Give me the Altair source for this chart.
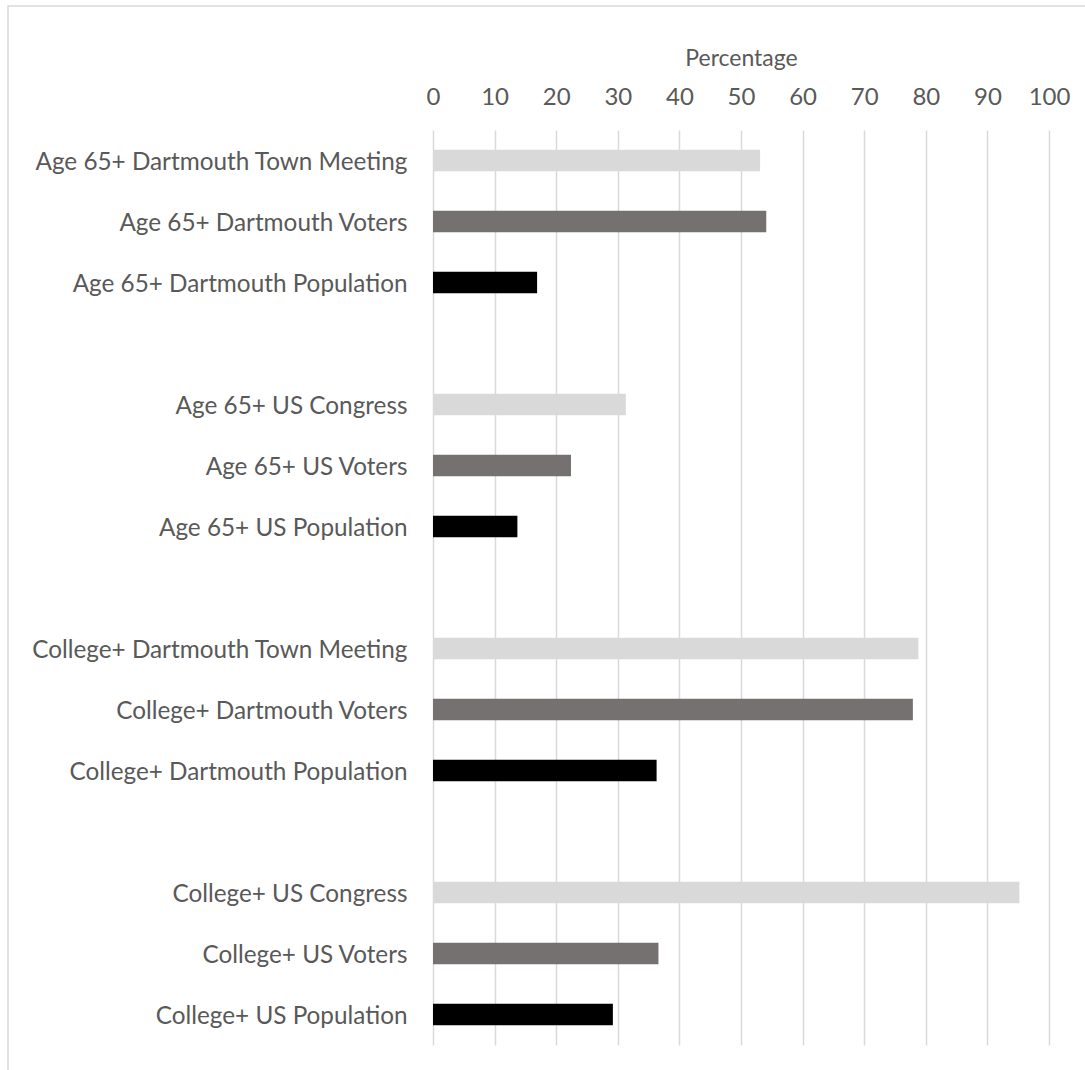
import altair as alt
import pandas as pd

categories = [
    "Age 65+ Dartmouth Town Meeting",
    "Age 65+ Dartmouth Voters",
    "Age 65+ Dartmouth Population",
    "Age 65+ US Congress",
    "Age 65+ US Voters",
    "Age 65+ US Population",
    "College+ Dartmouth Town Meeting",
    "College+ Dartmouth Voters",
    "College+ Dartmouth Population",
    "College+ US Congress",
    "College+ US Voters",
    "College+ US Population",
]
values = [53.1, 54.1, 16.9, 31.3, 22.4, 13.7, 78.8, 77.9, 36.3, 95.2, 36.6, 29.2]
kinds = ["Body", "Voters", "Population"] * 4

# display order (blank slots separate the four groups)
order = (categories[0:3] + [" "] + categories[3:6] + ["  "]
         + categories[6:9] + ["   "] + categories[9:12])

x_ticks = [0, 10, 20, 30, 40, 50, 60, 70, 80, 90, 100]

df = pd.DataFrame({"category": categories, "value": values, "kind": kinds})

FONT = "Lato"
TEXT = "#595959"

bars = alt.Chart(df).mark_bar().encode(
    x=alt.X(
        "value:Q",
        scale=alt.Scale(domain=[0, 100], nice=False),
        axis=alt.Axis(
            orient="top",
            title="Percentage",
            values=x_ticks,
            grid=True,
            gridColor="#d9d9d9",
            gridWidth=1.5,
            domain=False,
            ticks=False,
            labelFlush=False,
            labelPadding=21,
            titlePadding=15,
            labelFont=FONT,
            titleFont=FONT,
            labelFontSize=24,
            titleFontSize=23,
            titleFontWeight="normal",
            labelColor=TEXT,
            titleColor=TEXT,
        ),
    ),
    y=alt.Y(
        "category:N",
        sort=order,
        scale=alt.Scale(domain=order, paddingInner=0.645, paddingOuter=0.3225),
        axis=alt.Axis(
            title=None,
            domain=False,
            ticks=False,
            grid=False,
            labelPadding=26,
            labelOffset=2,
            labelFont=FONT,
            labelFontSize=24.3,
            labelColor=TEXT,
            labelLimit=0,
        ),
    ),
    color=alt.Color(
        "kind:N",
        scale=alt.Scale(domain=["Body", "Voters", "Population"],
                        range=["#d9d9d9", "#767171", "#000000"]),
        legend=None,
    ),
)

frame = alt.Chart(pd.DataFrame({"k": [0]})).mark_rect(
    fill="transparent", stroke="#d9d9d9", strokeWidth=1.5
).encode(
    x=alt.value(-425), x2=alt.value(700),
    y=alt.value(-124), y2=alt.value(1000),
)

chart = alt.layer(frame, bars).properties(
    width=616,
    height=915,
    padding={"left": 433, "top": 130, "right": 36, "bottom": 25},
    autosize=alt.AutoSizeParams(type="none"),
    background="white",
).configure_view(stroke=None)

chart.save("out.html", embed_options={"renderer": "svg", "actions": False})
